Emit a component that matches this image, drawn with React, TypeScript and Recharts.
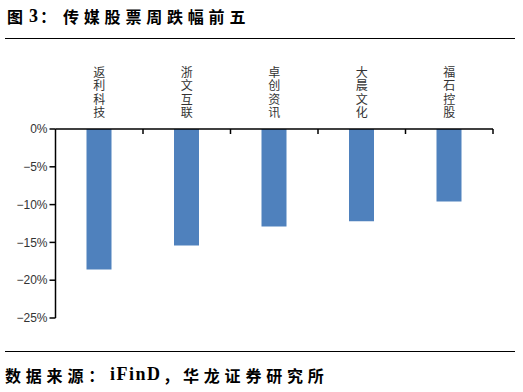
import React from 'react';
import { BarChart, Bar, XAxis, YAxis } from 'recharts';

const categories = ['返利科技', '浙文互联', '卓创资讯', '大晨文化', '福石控股'];
const changes = [-18.6, -15.4, -12.9, -12.2, -9.6];
const yTicks = [0, -5, -10, -15, -20, -25];

const data = categories.map((name, i) => ({ name, value: changes[i] }));

const CJK = '"Noto Sans CJK SC", "Noto Sans", sans-serif';

const CategoryTick = (props: any) => {
  const { x, y, payload } = props;
  const chars = String(payload.value).split('');
  const half = typeof payload.offset === 'number' && payload.offset > 0 ? payload.offset : 43.75;
  const n = chars.length;
  const pitch = 13.4;
  const top = y - 12 - (n - 1) * pitch;
  return (
    <g>
      <text x={x} y={top} textAnchor="middle" fontSize={12} fontFamily={CJK} fill="#333">
        {chars.map((c, i) => (
          <tspan key={i} x={x} y={top + i * pitch}>
            {c}
          </tspan>
        ))}
      </text>
      <line x1={x + half} x2={x + half} y1={y} y2={y + 5} stroke="#000" strokeWidth={1.5} />
    </g>
  );
};

const fmt = (v: number) => (v === 0 ? '0%' : `\u2212${Math.abs(v)}%`);

export default function App() {
  return (
    <div
      style={{
        position: 'fixed',
        left: 0,
        top: 0,
        width: 523,
        height: 392,
        background: '#fff',
        overflow: 'hidden',
      }}
    >
      <div style={{ position: 'absolute', left: 7, top: 8, fontFamily: CJK, fontWeight: 700, fontSize: 16, lineHeight: '16px', color: '#000' }}>图</div>
      <div style={{ position: 'absolute', left: 29, top: 7, fontFamily: '"Liberation Serif", serif', fontWeight: 700, fontSize: 18, lineHeight: '18px', color: '#000' }}>3</div>
      <div style={{ position: 'absolute', left: 40, top: 8, fontFamily: CJK, fontWeight: 700, fontSize: 16, lineHeight: '16px', color: '#000' }}>：</div>
      <div style={{ position: 'absolute', left: 63, top: 8, fontFamily: CJK, fontWeight: 700, fontSize: 16, lineHeight: '16px', letterSpacing: '4.8px', color: '#000', whiteSpace: 'nowrap' }}>传媒股票周跌幅前五</div>
      <div style={{ position: 'absolute', left: 5, top: 38, width: 510, height: 1, background: '#000' }} />

      <div style={{ position: 'absolute', left: 0, top: 0 }}>
        <BarChart
          width={523}
          height={392}
          data={data}
          margin={{ top: 69, right: 30, bottom: 74, left: 5.5 }}
        >
          <XAxis
            dataKey="name"
            orientation="top"
            height={60}
            axisLine={{ stroke: '#000', strokeWidth: 1.5 }}
            tickLine={false}
            tickSize={0}
            tickMargin={0}
            interval={0}
            tick={<CategoryTick />}
          />
          <YAxis
            type="number"
            domain={[-25, 0]}
            ticks={yTicks}
            width={50}
            tickFormatter={fmt}
            axisLine={{ stroke: '#000', strokeWidth: 1.5 }}
            tickLine={{ stroke: '#000', strokeWidth: 1.5 }}
            tickSize={6}
            tickMargin={2}
            tick={{ fontSize: 12, fill: '#333', fontFamily: '"Liberation Sans", Arial, sans-serif' }}
          />
          <Bar dataKey="value" fill="#4F81BD" barSize={25} isAnimationActive={false} />
        </BarChart>
      </div>

      <div style={{ position: 'absolute', left: 5, top: 351, width: 510, height: 1, background: '#000' }} />
      <div style={{ position: 'absolute', left: 5, top: 367, fontFamily: CJK, fontWeight: 700, fontSize: 16, lineHeight: '16px', letterSpacing: '4.8px', color: '#000', whiteSpace: 'nowrap' }}>数据来源：</div>
      <div style={{ position: 'absolute', left: 110, top: 365, fontFamily: '"Liberation Serif", serif', fontWeight: 700, fontSize: 18, lineHeight: '18px', letterSpacing: '1.5px', color: '#000', whiteSpace: 'nowrap' }}>iFinD</div>
      <div style={{ position: 'absolute', left: 163, top: 367, fontFamily: CJK, fontWeight: 700, fontSize: 16, lineHeight: '16px', color: '#000' }}>，</div>
      <div style={{ position: 'absolute', left: 183, top: 367, fontFamily: CJK, fontWeight: 700, fontSize: 16, lineHeight: '16px', letterSpacing: '4.8px', color: '#000', whiteSpace: 'nowrap' }}>华龙证券研究所</div>
    </div>
  );
}
